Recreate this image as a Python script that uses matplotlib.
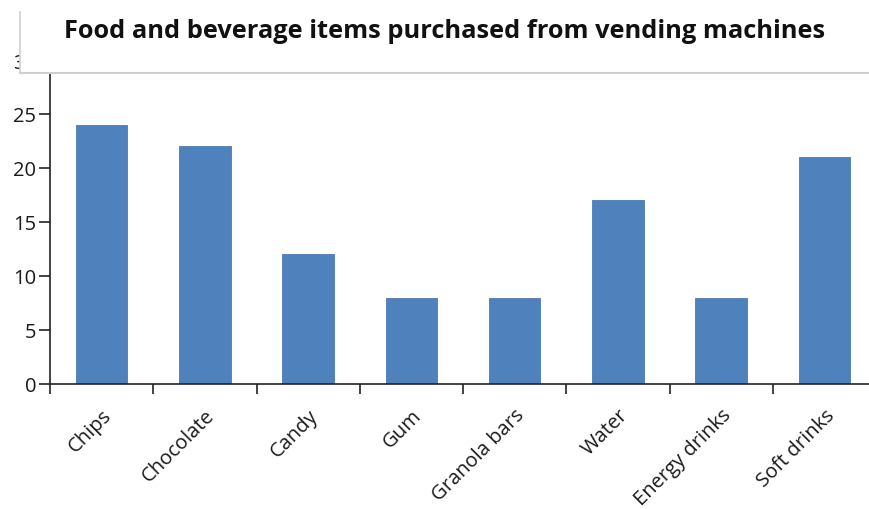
import matplotlib
matplotlib.use("Agg")
import matplotlib.pyplot as plt
from matplotlib.lines import Line2D
from matplotlib.patches import Rectangle
import numpy as np

categories = ["Chips", "Chocolate", "Candy", "Gum", "Granola bars", "Water", "Energy drinks", "Soft drinks"]
values = [24, 22, 12, 8, 8, 17, 8, 21]
yticks = [0, 5, 10, 15, 20, 25, 30]
title = "Food and beverage items purchased from vending machines"

plt.rcParams['font.family'] = ['Open Sans', 'DejaVu Sans']

W, H = 869, 510
fig = plt.figure(figsize=(W / 100, H / 100), dpi=100)
ax = fig.add_axes([50 / W, (H - 385) / H, (876 - 50) / W, (385 - 61) / H])

x = np.arange(len(categories))
ax.bar(x, values, width=0.5, color="#4f81bd", edgecolor="#4a7ab3", linewidth=0.6, zorder=2)

ax.set_xlim(-0.5, len(categories) - 0.5)
ax.set_ylim(0, 30)
ax.set_yticks(yticks)
ax.set_yticklabels([str(v) for v in yticks])
ax.set_xticks(x)
ax.set_xticklabels(categories, rotation=45, ha="right", rotation_mode="anchor")
ax.set_xticks(np.arange(-0.5, len(categories), 1.0), minor=True)
ax.tick_params(axis="x", which="major", length=0, pad=15, labelsize=14.5, labelcolor="#1a1a1a")
ax.tick_params(axis="x", which="minor", length=7, width=1.2, direction="out", color="#222222")
ax.tick_params(axis="y", length=8, width=1.2, pad=2, labelsize=14.5, color="#222222", labelcolor="#1a1a1a")

for s in ["top", "right"]:
    ax.spines[s].set_visible(False)
for s in ["left", "bottom"]:
    ax.spines[s].set_color("#222222")
    ax.spines[s].set_linewidth(1.2)

# Title box overlapping the top of the chart
x0, y0, y1 = 20 / W, (H - 74) / H, (H - 13) / H
box = Rectangle((x0, y0), 1.2, y1 - y0 + 0.1, transform=fig.transFigure,
                facecolor="white", edgecolor="none", zorder=10)
fig.add_artist(box)
fig.add_artist(Line2D([x0, x0], [y0, y1], transform=fig.transFigure, color="#cfcfcf", lw=1.2, zorder=11))
fig.add_artist(Line2D([x0, 1.0], [y0, y0], transform=fig.transFigure, color="#cfcfcf", lw=1.5, zorder=11))
fig.text(445 / W, (H - 38) / H, title, ha="center", va="baseline", fontsize=18.3,
         fontweight="bold", color="#111111", zorder=12)

fig.savefig("out.png", dpi=100)
